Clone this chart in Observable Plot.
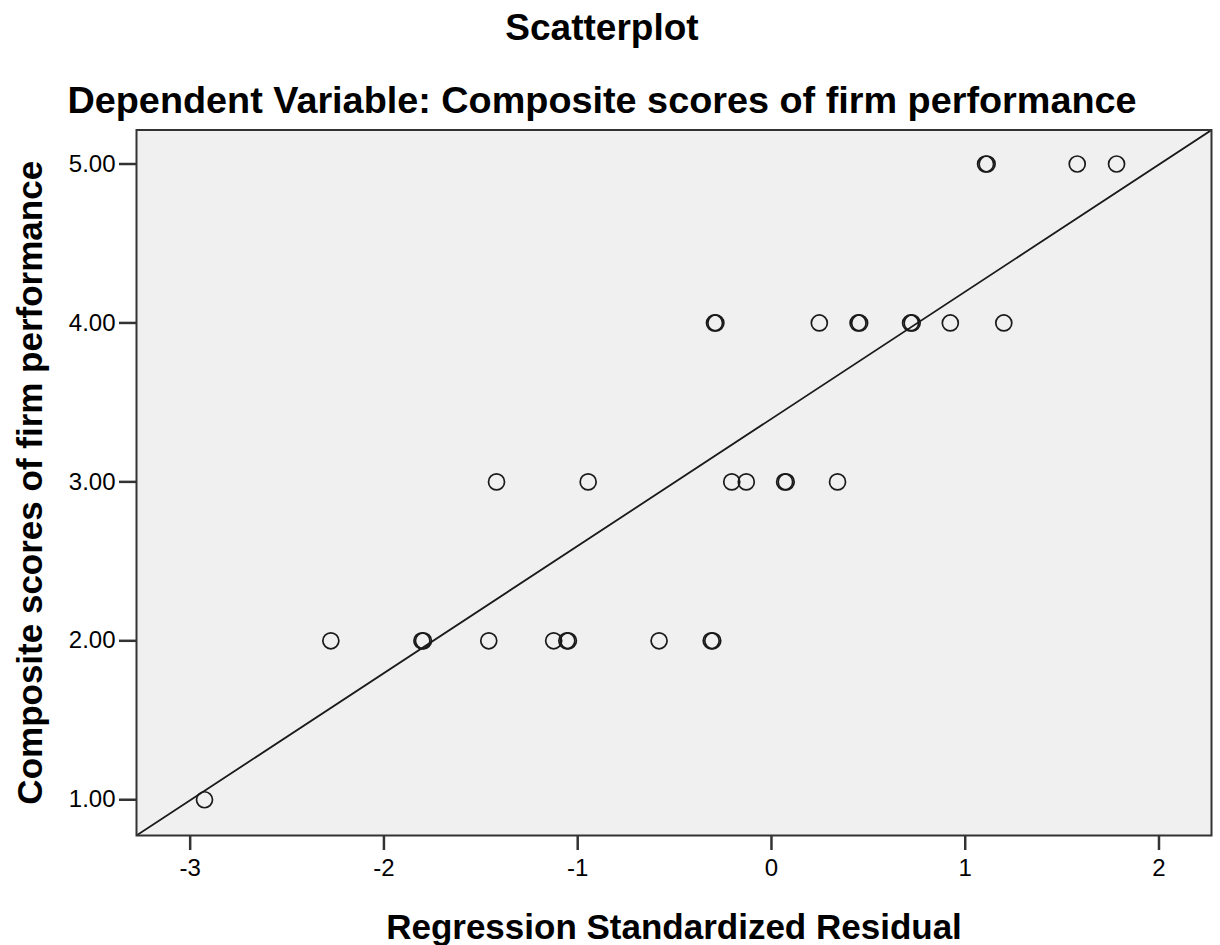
<!DOCTYPE html>
<html><head><meta charset="utf-8">
<script src="https://cdn.jsdelivr.net/npm/d3@7"></script>
<script src="https://cdn.jsdelivr.net/npm/@observablehq/plot@0.6"></script>
<style>
body{margin:0;background:#fff;font-family:"Liberation Sans",Arial,sans-serif;}
#wrap{position:relative;width:1220px;height:945px;}
#title,#subtitle{position:absolute;left:0;width:1204px;text-align:center;font-weight:bold;line-height:38px;color:#000;white-space:nowrap;z-index:2;}
#title{top:9px;font-size:37px;}
#subtitle{top:81px;font-size:37.8px;}
#chart{position:absolute;left:0;top:0;}
</style></head><body>
<div id="wrap">
<div id="chart"></div>
<div id="title">Scatterplot</div>
<div id="subtitle">Dependent Variable: Composite scores of firm performance</div>
</div>
<script>
// Data (x = regression standardized residual, y = composite score)
const resid = [1.105, 1.113, 1.578, 1.781,
  -0.294, -0.287, 0.247, 0.447, 0.455, 0.718, 0.726, 0.923, 1.199,
  -1.419, -0.946, -0.205, -0.130, 0.068, 0.076, 0.341,
  -2.274, -1.804, -1.796, -1.459, -1.124, -1.056, -1.048, -0.580, -0.311, -0.303,
  -2.926];
const score = [5, 5, 5, 5,
  4, 4, 4, 4, 4, 4, 4, 4, 4,
  3, 3, 3, 3, 3, 3, 3,
  2, 2, 2, 2, 2, 2, 2, 2, 2, 2,
  1];
const xTicks = [-3, -2, -1, 0, 1, 2];
const xTickLabels = ["-3", "-2", "-1", "0", "1", "2"];
const yTicks = [1, 2, 3, 4, 5];
const yTickLabels = ["1.00", "2.00", "3.00", "4.00", "5.00"];
const xDomain = [-3.277, 2.271];
const yDomain = [0.775, 5.214];
const fitIntercept = 3.397;
const fitSlope = 0.80;

const points = resid.map((r, i) => ({resid: r, score: score[i]}));
const fitLine = xDomain.map(x => ({x, y: fitIntercept + fitSlope * x}));

const plot = Plot.plot({
  width: 1220, height: 945,
  marginLeft: 136, marginRight: 9, marginTop: 129.5, marginBottom: 110,
  style: {fontFamily: "Liberation Sans, Arial, sans-serif", background: "transparent", color: "#000"},
  x: {domain: xDomain},
  y: {domain: yDomain},
  marks: [
    Plot.frame({fill: "#f0f0f0", stroke: null}),
    Plot.line(fitLine, {x: "x", y: "y", stroke: "#1a1a1a", strokeWidth: 1.8, clip: true}),
    Plot.dot(points, {x: "resid", y: "score", r: 8, stroke: "#1a1a1a", strokeWidth: 1.7, fill: "none"}),
    Plot.frame({stroke: "#333", strokeWidth: 2}),
    Plot.axisX({ticks: xTicks, tickFormat: d => xTickLabels[xTicks.indexOf(d)], tickSize: 15, tickPadding: 8, fontSize: 24, strokeWidth: 2.5, stroke: "#333", label: null}),
    Plot.axisY({ticks: yTicks, tickFormat: d => yTickLabels[yTicks.indexOf(d)], tickSize: 17, tickPadding: 4, fontSize: 24, strokeWidth: 2.5, stroke: "#333", label: null}),
    Plot.text(["Regression Standardized Residual"], {text: d => d, frameAnchor: "bottom", dy: 92, fontSize: 35, fontWeight: "bold", lineAnchor: "middle", fill: "#000"}),
    Plot.text(["Composite scores of firm performance"], {text: d => d, frameAnchor: "left", dx: -106, rotate: -90, textAnchor: "middle", fontSize: 35, fontWeight: "bold", fill: "#000"})
  ]
});
document.getElementById("chart").appendChild(plot);
</script></body></html>
